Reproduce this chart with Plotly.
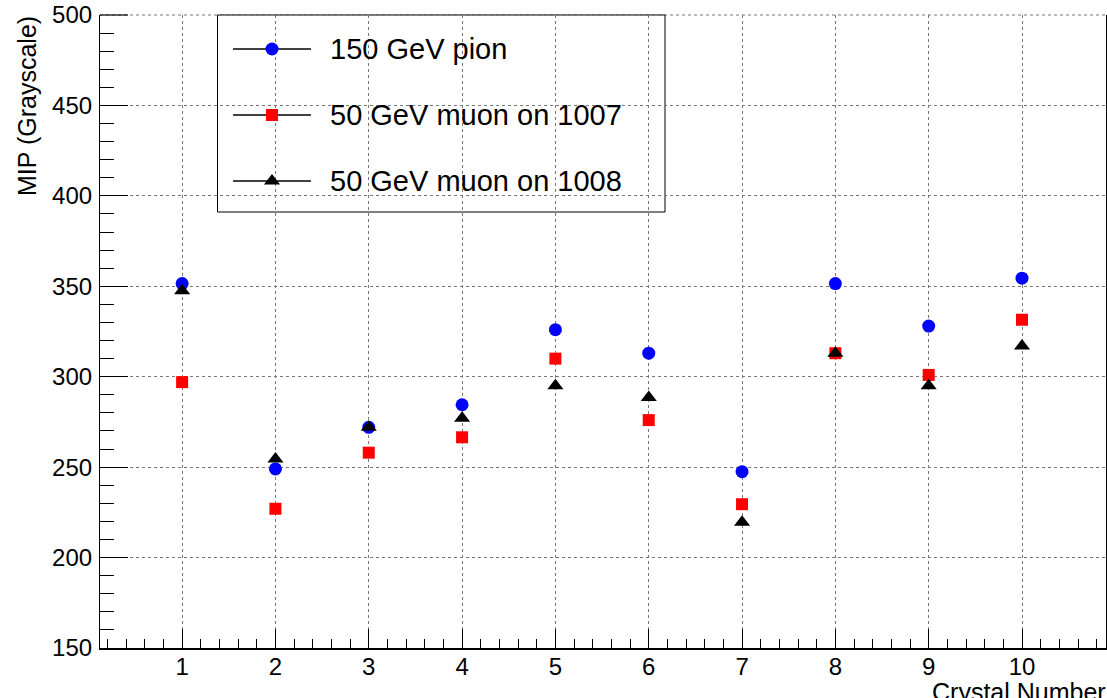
import plotly.graph_objects as go

crystals = [1, 2, 3, 4, 5, 6, 7, 8, 9, 10]
pion_150 = [351.5, 249, 272, 284.5, 326, 313, 247.5, 351.5, 328, 354.5]
muon_1007 = [297, 227, 258, 266.5, 310, 276, 229.5, 313, 301, 331.5]
muon_1008 = [347.5, 254.5, 272, 277, 295, 288.5, 219.5, 313, 295, 317]
series_names = ["150 GeV pion", "50 GeV muon on 1007", "50 GeV muon on 1008"]
series_colors = ["#0000ff", "#ff0000", "#000000"]
series_symbols = ["circle", "square", "triangle-up"]
series_sizes = [13, 12, 14]

FONT = "Liberation Sans, Arial, Helvetica, sans-serif"

fig = go.Figure()
for vals, name, col, sym, sz in zip([pion_150, muon_1007, muon_1008], series_names,
                                     series_colors, series_symbols, series_sizes):
    fig.add_trace(go.Scatter(x=crystals, y=vals, mode="markers", name=name,
                             marker=dict(color=col, symbol=sym, size=sz, line=dict(width=0)),
                             showlegend=False))

# Manual legend (ROOT TLegend style)
# plot area in screen px: x 100..1106, y 15..648
def px_x(p):
    return (p - 100) / 1006.0

def px_y(p):
    return (648 - p) / 633.0

shapes = [
    # top frame drawn as dotted grid line (ROOT style) plus top major tick
    dict(type="line", xref="paper", yref="paper", x0=0, x1=1, y0=1, y1=1,
         line=dict(color="#777777", width=1, dash="dot"), layer="below"),
    dict(type="line", xref="paper", yref="paper", x0=0, x1=px_x(128), y0=1, y1=1,
         line=dict(color="black", width=1.2), layer="above"),
    dict(type="rect", xref="paper", yref="paper",
         x0=px_x(217.5), x1=px_x(665), y0=px_y(212), y1=px_y(15),
         line=dict(color="black", width=1), fillcolor="white", layer="between"),
]
annotations = []
entry_y = [49, 115, 181]
for i, name in enumerate(series_names):
    yy = px_y(entry_y[i])
    shapes.append(dict(type="line", xref="paper", yref="paper",
                       x0=px_x(233), x1=px_x(311), y0=yy, y1=yy,
                       line=dict(color="black", width=1.3), layer="between"))
    annotations.append(dict(x=px_x(328), y=yy, xref="paper", yref="paper", text=name,
                            showarrow=False, xanchor="left", yanchor="middle",
                            font=dict(size=29, color="black", family=FONT)))
    fig.add_trace(go.Scatter(x=[px_x(272)], y=[yy], mode="markers", xaxis="x2", yaxis="y2",
                             marker=dict(color=series_colors[i], symbol=series_symbols[i],
                                         size=series_sizes[i], line=dict(width=0)),
                             showlegend=False, hoverinfo="skip"))

annotations.append(dict(x=px_x(930), y=px_y(676), xref="paper", yref="paper",
                        text="Crystal Number", showarrow=False, xanchor="left", yanchor="top",
                        font=dict(size=25, color="black", family=FONT)))
annotations.append(dict(x=px_x(27), y=px_y(14), xref="paper", yref="paper",
                        text="MIP (Grayscale)", showarrow=False, textangle=-90,
                        xanchor="center", yanchor="top",
                        font=dict(size=25, color="black", family=FONT)))

fig.update_layout(
    width=1107, height=698,
    margin=dict(l=100, r=1, t=15, b=50, autoexpand=False),
    paper_bgcolor="white", plot_bgcolor="white",
    font=dict(family=FONT, color="black"),
    shapes=shapes, annotations=annotations,
    xaxis=dict(range=[0.12, 10.9], tick0=0, dtick=1, ticks="inside", ticklen=19,
               tickcolor="black", tickwidth=1, ticklabelstandoff=-4,
               ticklabeloverflow="allow",
               minor=dict(ticks="inside", ticklen=9, dtick=0.2, tick0=0,
                          tickcolor="black", showgrid=False),
               showgrid=True, gridcolor="#777777", griddash="dot", gridwidth=1,
               showline=True, linecolor="black", linewidth=1.6, mirror=False,
               zeroline=False, automargin=False,
               tickfont=dict(size=24, family=FONT, color="black")),
    yaxis=dict(range=[150, 500], tick0=150, dtick=50, ticks="inside", ticklen=28,
               tickcolor="black", tickwidth=1, ticklabelstandoff=2,
               ticklabeloverflow="allow",
               minor=dict(ticks="inside", ticklen=14, dtick=10, tick0=150,
                          tickcolor="black", showgrid=False),
               showgrid=True, gridcolor="#777777", griddash="dot", gridwidth=1,
               showline=True, linecolor="black", linewidth=1.2, mirror=True,
               zeroline=False, automargin=False,
               tickfont=dict(size=24, family=FONT, color="black")),
    xaxis2=dict(range=[0, 1], overlaying="x", visible=False, fixedrange=True),
    yaxis2=dict(range=[0, 1], overlaying="y", visible=False, fixedrange=True),
)

# remove the default 8px page margin so the figure sits at the window's top-left corner
fig.write_html("out.html", config={"displayModeBar": False},
               post_script="document.body.style.margin='0px';document.body.style.overflow='hidden';")
